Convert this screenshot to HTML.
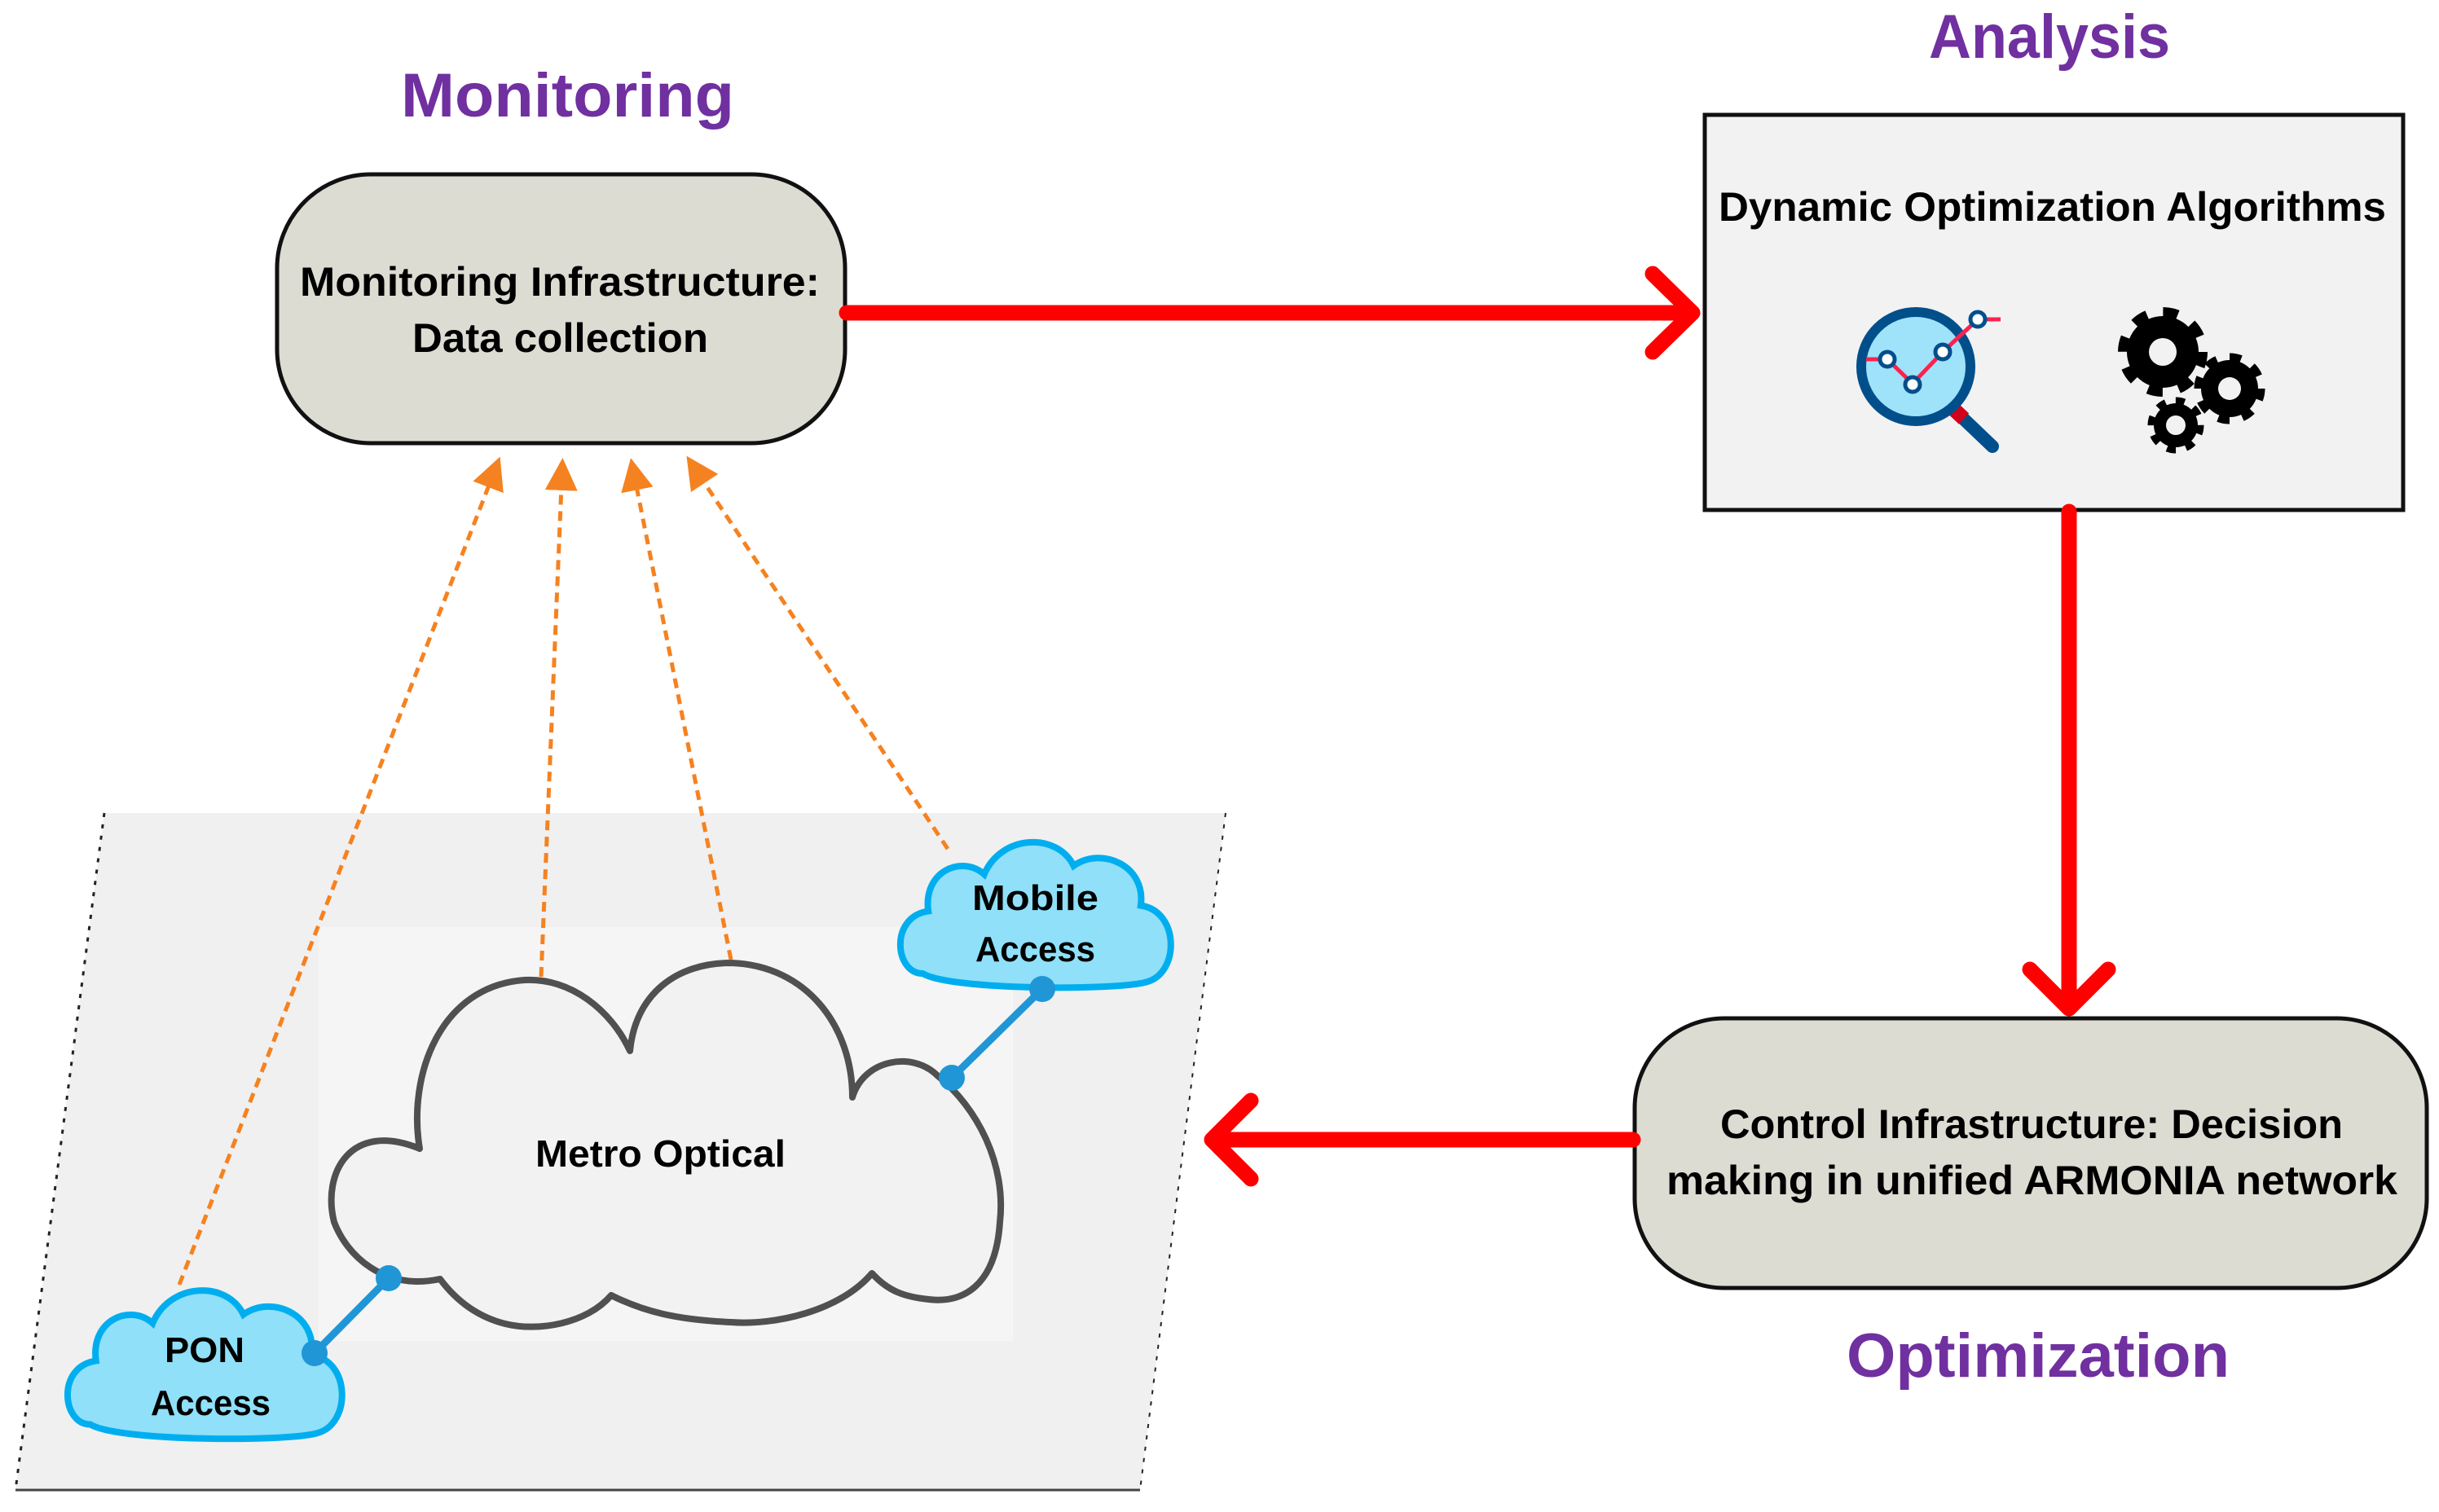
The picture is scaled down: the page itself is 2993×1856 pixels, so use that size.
<!DOCTYPE html>
<html><head><meta charset="utf-8"><style>html,body{margin:0;padding:0;background:#fff}svg{display:block}</style></head>
<body>
<svg width="2993" height="1856" viewBox="0 0 2993 1856" xmlns="http://www.w3.org/2000/svg" font-family="Liberation Sans, sans-serif" font-weight="bold">
<defs>
<marker id="oa" markerWidth="8" markerHeight="8" refX="6" refY="4" orient="auto" markerUnits="strokeWidth">
<path d="M0,0 L8,4 L0,8 Z" fill="#F58220"/></marker>
</defs>
<!-- parallelogram -->
<polygon points="128,998 1504,998 1399,1829 19,1829" fill="#f0f0f0"/>
<line x1="128" y1="998" x2="19" y2="1829" stroke="#222" stroke-width="3" stroke-dasharray="5,9"/>
<line x1="1504" y1="998" x2="1399" y2="1829" stroke="#222" stroke-width="2" stroke-dasharray="5,9"/>
<line x1="19" y1="1829" x2="1399" y2="1829" stroke="#444" stroke-width="3"/>
<rect x="391" y="1138" width="852" height="508" fill="#f5f5f5"/>
<!-- metro cloud -->
<path d="M515,1410 C500,1320 540,1210 644,1203 C700,1200 750,1240 773,1290 C780,1220 830,1182 897,1182 C990,1185 1046,1260 1046,1347 C1060,1300 1120,1290 1150,1320 C1200,1360 1235,1430 1227,1500 C1222,1580 1180,1600 1140,1595 C1110,1592 1090,1585 1070,1563 C1030,1610 950,1627 897,1623 C830,1620 790,1610 750,1590 C720,1625 660,1635 620,1625 C580,1615 555,1590 540,1570 C470,1585 425,1540 410,1500 C395,1440 430,1375 515,1410 Z" fill="#f2f2f2" stroke="#505050" stroke-width="8" stroke-linejoin="round"/>
<text x="657" y="1432" font-size="46" textLength="307" lengthAdjust="spacingAndGlyphs" fill="#000">Metro Optical</text>
<!-- blue connectors -->
<line x1="477" y1="1569" x2="386" y2="1661" stroke="#2196D6" stroke-width="9"/>
<line x1="1168" y1="1323" x2="1279" y2="1214" stroke="#2196D6" stroke-width="9"/>
<!-- access clouds -->
<g transform="translate(1098,1021) scale(3.43,3.48)">
<path d="M10,50 C0,50 -2,30 12,28 C10,14 24,8 32,15 C38,1 58,0 64,12 C74,5 90,12 88,26 C102,28 102,50 90,53 C80,56 20,56 10,50 Z" fill="#8fe0f8" stroke="#00AEEF" stroke-width="8" vector-effect="non-scaling-stroke"/>
</g>
<g transform="translate(76,1571) scale(3.48,3.55)">
<path d="M10,50 C0,50 -2,30 12,28 C10,14 24,8 32,15 C38,1 58,0 64,12 C74,5 90,12 88,26 C102,28 102,50 90,53 C80,56 20,56 10,50 Z" fill="#8fe0f8" stroke="#00AEEF" stroke-width="8" vector-effect="non-scaling-stroke"/>
</g>
<circle cx="477" cy="1569" r="16" fill="#2196D6"/>
<circle cx="386" cy="1661" r="16" fill="#2196D6"/>
<circle cx="1168" cy="1323" r="16" fill="#2196D6"/>
<circle cx="1279" cy="1214" r="16" fill="#2196D6"/>
<text x="1193" y="1117" font-size="44" textLength="155" lengthAdjust="spacingAndGlyphs">Mobile</text>
<text x="1197" y="1180" font-size="44" textLength="147" lengthAdjust="spacingAndGlyphs">Access</text>
<text x="202" y="1672" font-size="44" textLength="98" lengthAdjust="spacingAndGlyphs">PON</text>
<text x="185" y="1737" font-size="44" textLength="147" lengthAdjust="spacingAndGlyphs">Access</text>
<!-- orange dashed arrows -->
<g stroke="#F58220" stroke-width="5" stroke-dasharray="12,8" fill="none" marker-end="url(#oa)">
<line x1="220" y1="1577" x2="610" y2="570"/>
<line x1="664" y1="1199" x2="690" y2="572"/>
<line x1="897" y1="1178" x2="776" y2="572"/>
<line x1="1163" y1="1042" x2="848" y2="568"/>
</g>
<!-- monitoring box -->
<rect x="340" y="214" width="697" height="330" rx="115" fill="#dddcd3" stroke="#111" stroke-width="5"/>
<text x="368" y="363" font-size="50" textLength="638" lengthAdjust="spacingAndGlyphs">Monitoring Infrastructure:</text>
<text x="506" y="432" font-size="50" textLength="363" lengthAdjust="spacingAndGlyphs">Data collection</text>
<text x="492" y="143" font-size="76" fill="#7030A0" textLength="409" lengthAdjust="spacingAndGlyphs">Monitoring</text>
<!-- analysis box -->
<rect x="2092" y="141" width="857" height="485" fill="#f2f2f2" stroke="#111" stroke-width="5"/>
<text x="2109" y="271" font-size="50" textLength="819" lengthAdjust="spacingAndGlyphs">Dynamic Optimization Algorithms</text>
<text x="2367" y="71" font-size="76" fill="#7030A0" textLength="296" lengthAdjust="spacingAndGlyphs">Analysis</text>
<!-- magnifier -->
<line x1="2400" y1="505" x2="2445" y2="548" stroke="#004F8B" stroke-width="16" stroke-linecap="round"/>
<line x1="2395" y1="500" x2="2410" y2="514" stroke="#D0021B" stroke-width="18"/>
<circle cx="2351" cy="450" r="67" fill="#9fe3fa" stroke="#004F8B" stroke-width="12"/>
<polyline points="2290,441 2316,441 2347,471 2384,432 2427,392 2455,392" fill="none" stroke="#ff2050" stroke-width="5"/>
<g fill="#fff" stroke="#004F8B" stroke-width="5">
<circle cx="2316" cy="441" r="9"/><circle cx="2347" cy="472" r="9"/><circle cx="2384" cy="432" r="9"/><circle cx="2427" cy="392" r="9"/>
</g>
<!-- gears -->
<g>
<circle cx="2654" cy="432" r="44" fill="#000"/>
<circle cx="2654" cy="432" r="48" fill="none" stroke="#000" stroke-width="14" stroke-dasharray="18,19.7"/>
<circle cx="2654" cy="432" r="17" fill="#f2f2f2"/>
<circle cx="2736" cy="477" r="35" fill="#000"/>
<circle cx="2736" cy="477" r="38" fill="none" stroke="#000" stroke-width="11" stroke-dasharray="14,15.8"/>
<circle cx="2736" cy="477" r="14" fill="#f2f2f2"/>
<circle cx="2670" cy="522" r="27" fill="#000"/>
<circle cx="2670" cy="522" r="30" fill="none" stroke="#000" stroke-width="9" stroke-dasharray="11,12.5"/>
<circle cx="2670" cy="522" r="12" fill="#f2f2f2"/>
</g>
<!-- optimization box -->
<rect x="2006" y="1250" width="972" height="331" rx="110" fill="#dddcd3" stroke="#111" stroke-width="5"/>
<text x="2111" y="1397" font-size="50" textLength="764" lengthAdjust="spacingAndGlyphs">Control Infrastructure: Decision</text>
<text x="2045" y="1466" font-size="50" textLength="897" lengthAdjust="spacingAndGlyphs">making in unified ARMONIA network</text>
<text x="2266" y="1690" font-size="76" fill="#7030A0" textLength="470" lengthAdjust="spacingAndGlyphs">Optimization</text>
<!-- red arrows -->
<g stroke="#FF0000" stroke-width="19" fill="none" stroke-linecap="round" stroke-linejoin="round">
<line x1="1039" y1="384" x2="2075" y2="384"/>
<polyline points="2028,336 2077,384 2028,432"/>
<line x1="2539" y1="628" x2="2539" y2="1235"/>
<polyline points="2491,1190 2539,1238 2587,1190"/>
<line x1="2004" y1="1399" x2="1490" y2="1399"/>
<polyline points="1535,1351 1487,1399 1535,1447"/>
</g>
</svg>
</body></html>
